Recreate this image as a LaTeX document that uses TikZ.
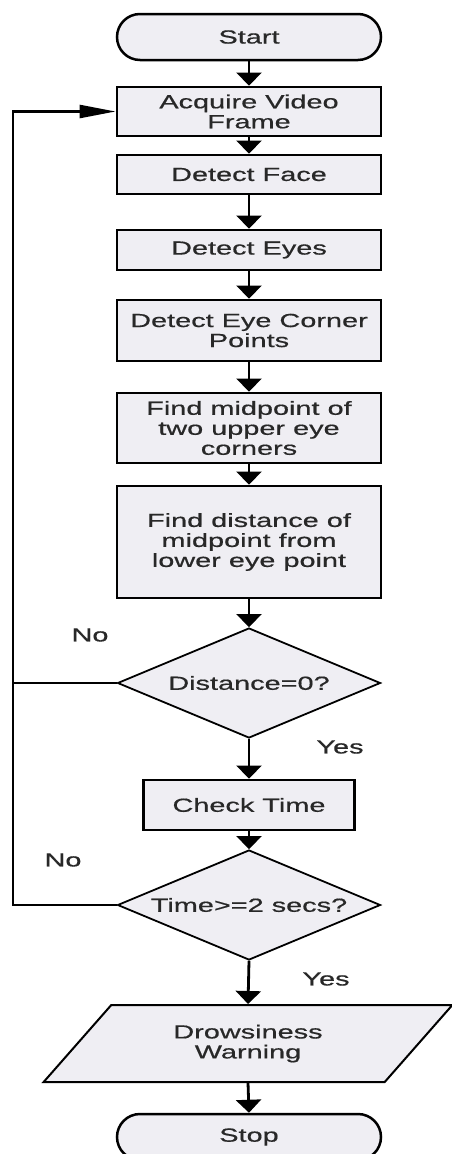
\documentclass[tikz,border=0pt]{standalone}
\usepackage{fontspec}
\setmainfont{Liberation Sans}[FakeStretch=1.52,FakeBold=0.6]
\usetikzlibrary{shapes.geometric,arrows.meta}
\definecolor{boxfill}{RGB}{239,238,243}
\definecolor{labeltext}{RGB}{40,40,40}
\begin{document}
\begin{tikzpicture}[x=1pt,y=-1pt,
  every node/.style={font=\fontsize{19}{20}\selectfont, text=labeltext},
  procbox/.style={draw, line width=2.8pt, fill=boxfill, minimum width=264pt, align=center, inner sep=2pt},
  termbox/.style={procbox, line width=2.5pt, rounded corners=23pt, minimum height=46pt},
  decbox/.style={diamond, aspect=2.4, draw, line width=1.8pt, fill=boxfill, minimum width=263pt, minimum height=110pt, inner sep=0pt},
  iobox/.style={trapezium, trapezium left angle=49, trapezium right angle=131, trapezium stretches=true, draw, line width=2pt, fill=boxfill, minimum width=409pt, minimum height=77pt, align=center},
  flow/.style={-{Triangle[width=25pt,length=13pt]}, line width=2.8pt},
  back/.style={line width=2.5pt}]
\useasboundingbox (0,0) rectangle (452,1154);
\node[termbox] (start) at (249,37) {Start};
\node[procbox, minimum height=49pt] (acquire) at (249,111.5) {Acquire Video\\Frame};
\node[procbox, minimum height=39pt] (face) at (249,174.5) {Detect Face};
\node[procbox, minimum height=40pt] (eyes) at (249,250) {Detect Eyes};
\node[procbox, minimum height=61pt] (corner) at (249,330.5) {Detect Eye Corner\\Points};
\node[procbox, minimum height=70pt] (midpt) at (249,428) {Find midpoint of\\two upper eye\\corners};
\node[procbox, minimum height=112pt] (dist) at (249,542) {Find distance of\\midpoint from\\lower eye point};
\node[decbox] (iszero) at (249,683) {Distance=0?};
\node[procbox, minimum width=211pt, minimum height=50pt] (check) at (249,805) {Check Time};
\node[decbox] (istime) at (249,905) {Time>=2 secs?};
\node[iobox] (warn) at (248,1043.5) {Drowsiness\\Warning};
\node[termbox] (stop) at (249,1137) {Stop};
\node (no1) at (90,635) {No};
\node (yes1) at (340,747) {Yes};
\node (no2) at (63,860) {No};
\node (yes2) at (326,979) {Yes};
\draw[flow] (start.south) -- (acquire.north);
\draw[flow] (acquire.south) -- (face.north);
\draw[flow] (face.south) -- (eyes.north);
\draw[flow] (eyes.south) -- (corner.north);
\draw[flow] (corner.south) -- (midpt.north);
\draw[flow] (midpt.south) -- (dist.north);
\draw[flow] (dist.south) -- (iszero.north);
\draw[flow] (iszero.south) -- (check.north);
\draw[flow] (check.south) -- (istime.north);
\draw[flow] (istime.south) -- (warn.north);
\draw[flow] (warn.south) -- (stop.north);
\coordinate (loopbot) at (13,905);
\coordinate (looptop) at (13,111.5);
\draw[back, -{Triangle[width=13pt,length=36pt]}] (istime.west) -- (loopbot) -- (looptop) -- (acquire.west);
\draw[back] (iszero.west) -- (iszero.west -| loopbot);
\end{tikzpicture}
\end{document}
